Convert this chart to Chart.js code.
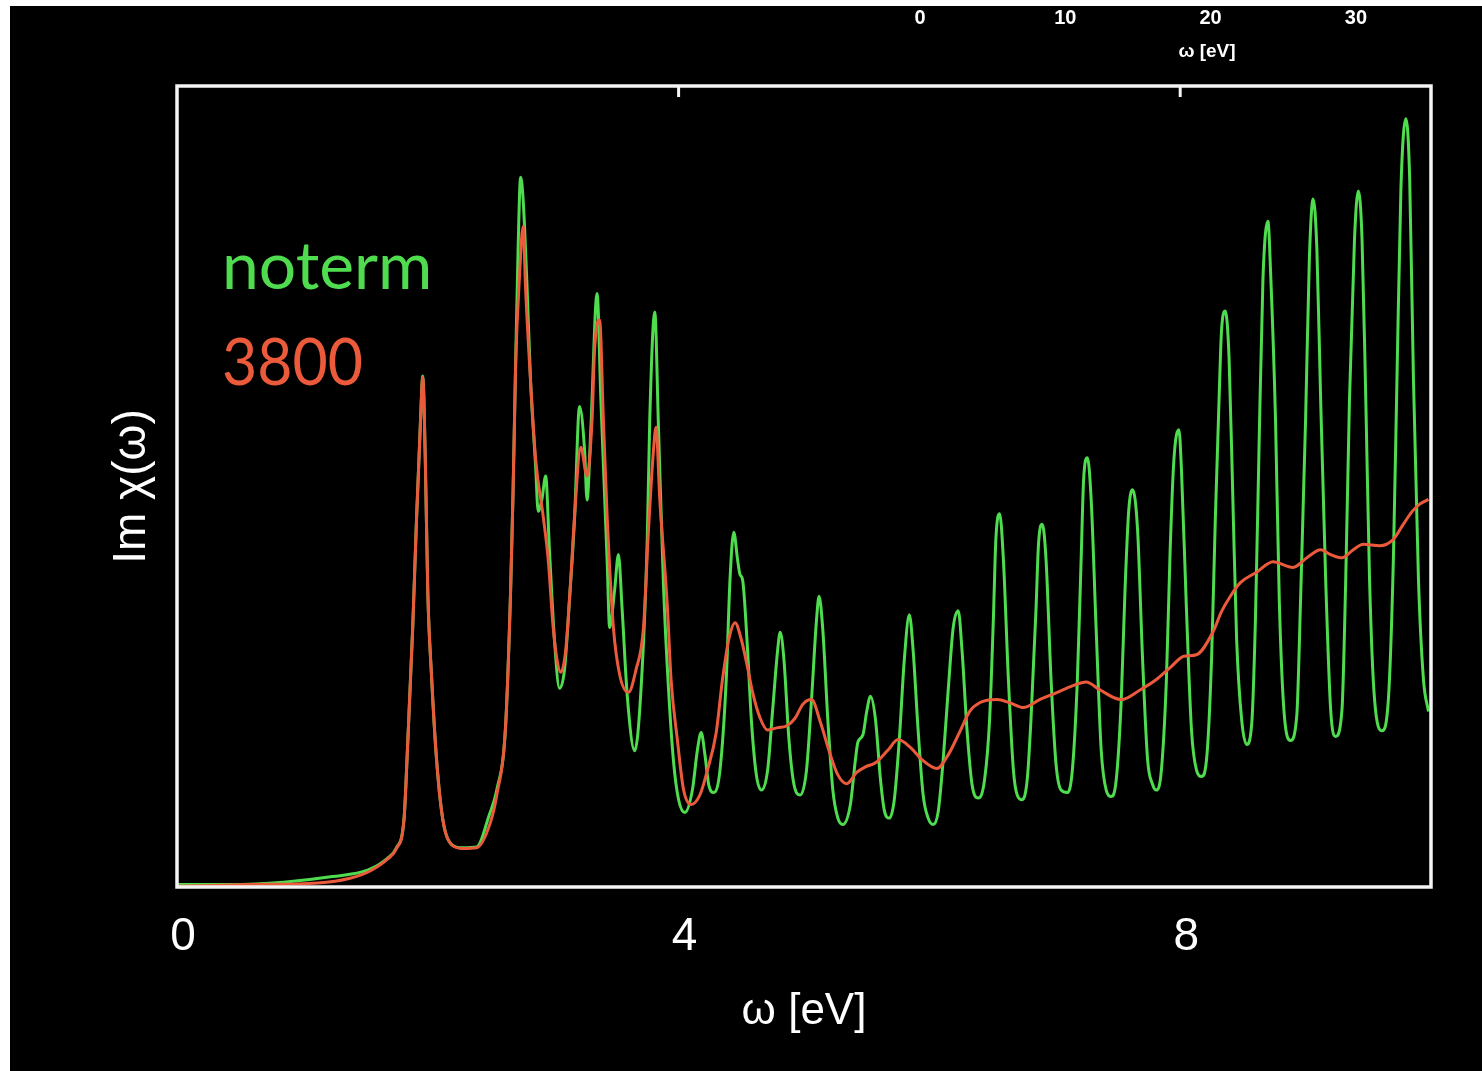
<!DOCTYPE html>
<html>
<head>
<meta charset="utf-8">
<title>Im chi(omega)</title>
<script src="https://cdn.jsdelivr.net/npm/chart.js@4/dist/chart.umd.min.js"></script>
<style>
	html, body { margin: 0; padding: 0; background: #fff; overflow: hidden; }
	#wrap { position: absolute; left: 10px; top: 6px; width: 1472px; height: 1065px; background: #000; }
</style>
</head>
<body>
<div id="wrap">
	<canvas id="imChi" width="1472" height="1065"></canvas>
</div>
<script>
// energias (eV) e intensidad
const energiaNoterm = [
	0, 0.42, 0.85, 1.24, 1.52, 1.68, 1.75, 1.81, 1.84, 1.88, 1.91, 1.94, 1.96, 1.98, 2.00, 2.03, 2.07, 2.12, 2.19, 2.28,
	2.39, 2.49, 2.55, 2.62, 2.66, 2.68, 2.70, 2.72, 2.74, 2.76, 2.79, 2.82, 2.86, 2.88, 2.91, 2.94, 2.97, 3.01, 3.05, 3.09,
	3.13, 3.17, 3.21, 3.25, 3.27, 3.30, 3.35, 3.38, 3.43, 3.45, 3.49, 3.52, 3.55, 3.59, 3.65, 3.70, 3.75, 3.77, 3.81, 3.84,
	3.88, 3.92, 3.96, 4.00, 4.05, 4.11, 4.15, 4.18, 4.21, 4.24, 4.28, 4.33, 4.38, 4.41, 4.44, 4.47, 4.49, 4.51, 4.55, 4.58,
	4.62, 4.66, 4.71, 4.75, 4.79, 4.81, 4.84, 4.88, 4.92, 4.97, 5.02, 5.06, 5.10, 5.12, 5.15, 5.19, 5.23, 5.27, 5.31, 5.37,
	5.41, 5.43, 5.47, 5.50, 5.53, 5.57, 5.61, 5.64, 5.68, 5.72, 5.76, 5.80, 5.84, 5.87, 5.91, 5.95, 5.99, 6.03, 6.07, 6.11,
	6.15, 6.19, 6.23, 6.26, 6.30, 6.34, 6.39, 6.44, 6.48, 6.51, 6.53, 6.56, 6.59, 6.63, 6.67, 6.70, 6.74, 6.78, 6.81, 6.85,
	6.87, 6.90, 6.93, 6.97, 7.01, 7.05, 7.10, 7.14, 7.18, 7.21, 7.23, 7.26, 7.29, 7.33, 7.37, 7.41, 7.45, 7.49, 7.53, 7.56,
	7.59, 7.62, 7.66, 7.70, 7.74, 7.78, 7.81, 7.85, 7.89, 7.92, 7.95, 7.99, 8.01, 8.05, 8.09, 8.13, 8.17, 8.21, 8.25, 8.28,
	8.31, 8.33, 8.36, 8.39, 8.42, 8.45, 8.49, 8.53, 8.57, 8.60, 8.63, 8.66, 8.70, 8.72, 8.76, 8.79, 8.83, 8.88, 8.93, 8.96,
	9.00, 9.03, 9.06, 9.09, 9.12, 9.16, 9.20, 9.24, 9.29, 9.32, 9.35, 9.39, 9.42, 9.45, 9.48, 9.51, 9.55, 9.61, 9.66, 9.70,
	9.73, 9.76, 9.80, 9.83, 9.86, 9.90, 9.94, 9.98
];
const imNoterm = [
	0.03, 0.03, 0.06, 0.13, 0.21, 0.36, 0.49, 0.84, 1.80, 3.25, 4.59, 5.75, 6.38, 5.34, 3.68, 2.63, 1.59, 0.84, 0.53, 0.49,
	0.50, 0.90, 1.21, 2.00, 3.68, 4.93, 6.50, 7.96, 8.86, 8.59, 7.55, 6.30, 5.25, 4.69, 4.84, 5.13, 4.21, 3.09, 2.48, 2.71,
	3.59, 4.59, 6.00, 5.46, 4.83, 5.71, 7.41, 6.09, 4.08, 3.24, 3.71, 4.15, 3.46, 2.40, 1.70, 2.46, 4.34, 5.84, 7.18, 5.71,
	3.74, 2.46, 1.56, 1.09, 0.93, 1.21, 1.71, 1.93, 1.65, 1.28, 1.18, 1.46, 2.59, 3.84, 4.43, 4.09, 3.90, 3.84, 2.96, 2.09,
	1.40, 1.21, 1.46, 2.21, 2.96, 3.18, 2.84, 1.84, 1.28, 1.15, 1.46, 2.34, 3.34, 3.63, 3.21, 2.09, 1.21, 0.86, 0.78, 1.03,
	1.59, 1.81, 1.90, 2.19, 2.38, 2.09, 1.34, 0.96, 0.86, 1.09, 1.84, 2.84, 3.40, 2.96, 1.96, 1.15, 0.86, 0.78, 0.94, 1.59,
	2.46, 3.24, 3.45, 2.96, 1.96, 1.28, 1.11, 1.34, 2.09, 3.34, 4.34, 4.66, 4.09, 2.59, 1.46, 1.15, 1.09, 1.34, 2.09, 3.46,
	4.28, 4.53, 4.09, 2.59, 1.53, 1.21, 1.18, 1.46, 2.59, 4.09, 5.09, 5.36, 4.84, 3.21, 1.71, 1.21, 1.13, 1.34, 2.34, 3.71,
	4.71, 4.96, 4.46, 2.84, 1.59, 1.28, 1.21, 1.46, 2.59, 4.21, 5.34, 5.71, 5.21, 3.46, 1.96, 1.46, 1.38, 1.59, 2.84, 4.59,
	6.09, 6.96, 7.19, 6.59, 4.84, 3.09, 2.09, 1.78, 2.03, 3.34, 5.59, 7.59, 8.31, 7.71, 5.84, 3.59, 2.15, 1.83, 2.15, 3.59,
	5.84, 7.84, 8.59, 7.96, 6.09, 3.84, 2.21, 1.88, 2.21, 3.84, 6.09, 8.09, 8.69, 8.09, 6.09, 3.84, 2.34, 1.95, 2.34, 4.09,
	6.46, 8.71, 9.59, 8.84, 6.34, 3.84, 2.59, 2.19
];
const energia3800 = [
	0, 0.58, 1.12, 1.38, 1.54, 1.68, 1.75, 1.81, 1.84, 1.88, 1.91, 1.94, 1.96, 1.98, 2.00, 2.03, 2.07, 2.12, 2.19, 2.28,
	2.39, 2.50, 2.55, 2.62, 2.66, 2.68, 2.70, 2.73, 2.76, 2.78, 2.82, 2.86, 2.92, 2.96, 3.00, 3.03, 3.06, 3.10, 3.14, 3.17,
	3.22, 3.27, 3.31, 3.33, 3.37, 3.40, 3.43, 3.48, 3.53, 3.60, 3.66, 3.72, 3.76, 3.80, 3.82, 3.85, 3.91, 3.94, 3.99, 4.04,
	4.10, 4.17, 4.23, 4.30, 4.35, 4.40, 4.45, 4.50, 4.55, 4.59, 4.65, 4.71, 4.79, 4.86, 4.93, 4.99, 5.06, 5.13, 5.21, 5.27,
	5.34, 5.42, 5.49, 5.57, 5.67, 5.75, 5.85, 5.94, 6.06, 6.15, 6.24, 6.32, 6.40, 6.54, 6.64, 6.75, 6.88, 7.02, 7.14, 7.25,
	7.36, 7.53, 7.68, 7.81, 7.92, 8.03, 8.13, 8.26, 8.33, 8.40, 8.48, 8.61, 8.74, 8.90, 9.01, 9.12, 9.20, 9.29, 9.38, 9.46,
	9.59, 9.70, 9.78, 9.85, 9.91, 9.98
];
const im3800 = [
	0.01, 0.03, 0.05, 0.11, 0.20, 0.35, 0.48, 0.84, 1.80, 3.25, 4.59, 5.75, 6.36, 5.34, 3.68, 2.63, 1.59, 0.84, 0.53, 0.48,
	0.49, 0.81, 1.15, 2.00, 3.68, 4.93, 6.50, 7.59, 8.25, 7.46, 6.30, 5.34, 4.63, 4.09, 3.24, 2.84, 2.68, 2.96, 3.84, 4.63,
	5.49, 5.13, 5.84, 6.71, 7.08, 5.84, 4.63, 3.24, 2.65, 2.43, 2.71, 3.24, 4.46, 5.46, 5.74, 4.84, 3.51, 2.59, 1.84, 1.21,
	1.03, 1.15, 1.46, 1.93, 2.59, 3.09, 3.30, 3.09, 2.74, 2.43, 2.11, 1.96, 1.99, 2.01, 2.11, 2.28, 2.34, 2.06, 1.65, 1.40,
	1.29, 1.43, 1.50, 1.55, 1.71, 1.84, 1.74, 1.59, 1.48, 1.65, 1.93, 2.19, 2.30, 2.34, 2.30, 2.24, 2.34, 2.43, 2.51, 2.56,
	2.46, 2.34, 2.46, 2.59, 2.74, 2.88, 2.90, 3.18, 3.44, 3.63, 3.80, 3.93, 4.06, 3.99, 4.11, 4.21, 4.15, 4.11, 4.21, 4.28,
	4.26, 4.34, 4.53, 4.69, 4.78, 4.84
];

const etiquetas = ['noterm', '3800'];
const colores = ['#4fdc4f', '#ea5a3b'];
const xTicks = [0, 4, 8];
// escala que quedo arriba de la figura original
const ticksArriba = ['0', '10', '20', '30'];

const puntos = (xs, ys) => xs.map((x, i) => ({ x: x, y: ys[i] }));

const marco = {
	id: 'marco',
	afterDatasetsDraw(chart){
		const ctx = chart.ctx;
		const a = chart.chartArea;
		const sx = chart.scales.x;
		ctx.save();
		// borde blanco
		ctx.strokeStyle = '#f4f4f4';
		ctx.lineWidth = 3.5;
		ctx.strokeRect(a.left, a.top, a.right - a.left, a.bottom - a.top);
		// marcas interiores arriba
		ctx.lineWidth = 3;
		xTicks.forEach(v => {
			if(v == 0) return;
			const px = sx.getPixelForValue(v);
			ctx.beginPath();
			ctx.moveTo(px, a.top);
			ctx.lineTo(px, a.top + 11);
			ctx.stroke();
		});
		// leyenda
		const anchos = [212, 141];
		ctx.textAlign = 'left';
		ctx.textBaseline = 'alphabetic';
		ctx.font = '66px Lato';
		chart.data.datasets.forEach((ds, i) => {
			ctx.fillStyle = ds.borderColor;
			ctx.fillText(ds.label, 212, 283 + i * 96, anchos[i]);
		});
		// numeros de arriba
		ctx.fillStyle = '#fff';
		ctx.textAlign = 'center';
		ctx.textBaseline = 'middle';
		ctx.font = 'bold 20px "Liberation Sans"';
		ticksArriba.forEach((t, i) => {
			ctx.fillText(t, 910 + i * 145.3, 12);
		});
		ctx.font = 'bold 19px "Liberation Sans"';
		ctx.fillText('ω [eV]', 1197, 46);
		ctx.restore();
	}
};

const data = {
	datasets: [
		{
			label: etiquetas[0],
			data: puntos(energiaNoterm, imNoterm),
			borderColor: colores[0],
			order: 1
		},
		{
			label: etiquetas[1],
			data: puntos(energia3800, im3800),
			borderColor: colores[1],
			order: 0
		}
	]
};

const config = {
	type: 'line',
	data: data,
	options: {
		responsive: false,
		animation: false,
		layout: { padding: { left: 0, top: 80, right: 51, bottom: 0 } },
		elements: {
			point: { radius: 0 },
			line: { borderWidth: 3, cubicInterpolationMode: 'monotone', fill: false }
		},
		plugins: {
			legend: { display: false },
			tooltip: { enabled: false }
		},
		scales: {
			x: {
				type: 'linear',
				min: 0,
				max: 10,
				afterBuildTicks: axis => { axis.ticks = xTicks.map(v => ({ value: v })) },
				afterFit: s => { s.height = 184 },
				grid: { display: false, drawTicks: false },
				border: { display: false },
				ticks: {
					color: '#fff',
					font: { family: 'Liberation Sans', size: 46 },
					padding: 23,
					labelOffset: 6,
					maxRotation: 0,
					autoSkip: false
				},
				title: {
					display: true,
					text: 'ω [eV]',
					color: '#fff',
					font: { family: 'Liberation Sans', size: 44 },
					padding: { top: 0, bottom: 33 }
				}
			},
			y: {
				type: 'linear',
				min: 0,
				max: 10,
				afterFit: s => { s.width = 167 },
				grid: { display: false, drawTicks: false },
				border: { display: false },
				ticks: { display: false },
				title: {
					display: true,
					text: 'Im χ(ω)',
					color: '#fff',
					font: { family: 'Liberation Sans', size: 46 },
					padding: { top: 95, bottom: 0 }
				}
			}
		}
	},
	plugins: [marco]
};

new Chart(
	document.getElementById('imChi'),
	config
);
</script>
</body>
</html>
